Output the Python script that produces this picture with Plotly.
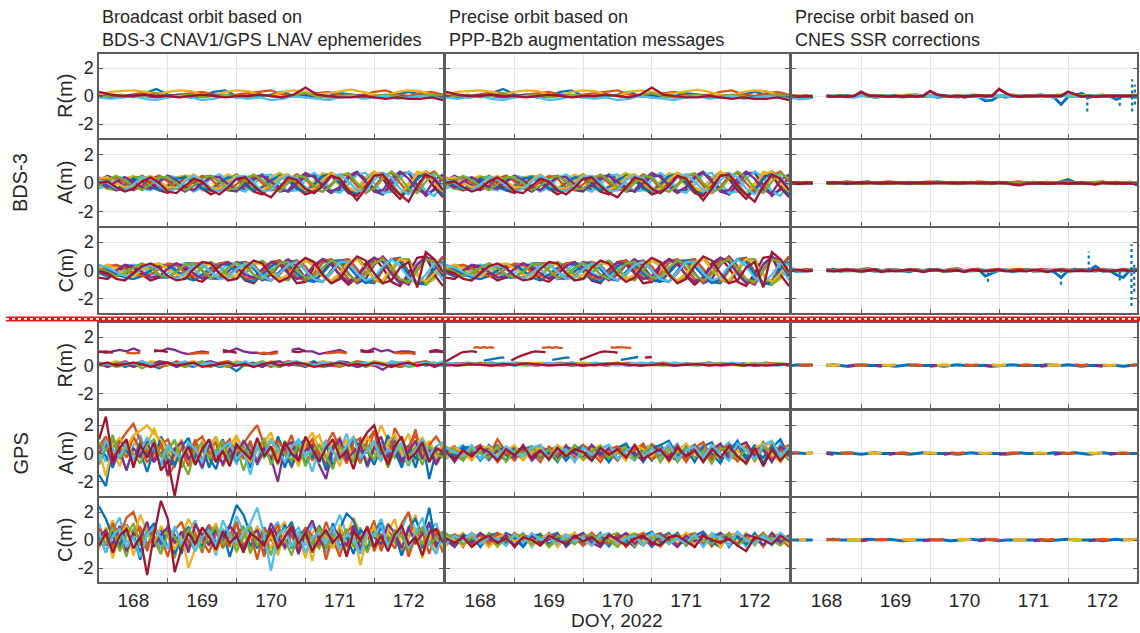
import numpy as np
import plotly.graph_objects as go
from plotly.subplots import make_subplots

NA = None

# ---------------- labels ----------------
COL_TITLES = [
    "Broadcast orbit based on<br>BDS-3 CNAV1/GPS LNAV ephemerides",
    "Precise orbit based on<br>PPP-B2b augmentation messages",
    "Precise orbit based on<br>CNES SSR corrections",
]
ROW_LABELS = ["R(m)", "A(m)", "C(m)", "R(m)", "A(m)", "C(m)"]
SYSTEMS = ["BDS-3", "GPS"]
DAY_LABELS = ["168", "169", "170", "171", "172"]
X_TITLE = "DOY, 2022"
DOY_START, DOY_END = 168.0, 173.0
Y_TICKS = [-2, 0, 2]

# ---------------- data (orbit errors, m) ----------------
# BDS-3 radial, broadcast (PPP-B2b panel is practically identical)
BDS_R_BRDC = [
    [0.1,0.0,-0.1,0.0,0.2,0.5,0.1,0.0,-0.1,0.0,0.3,0.4,0.0,-0.1,0.0,0.1,0.3,0.0,-0.1,0.0,0.0,0.2,0.1,0.0,-0.1,0.0,0.1,0.3,0.1,0.0,-0.1],
    [0.2,0.1,0.0,0.1,0.3,0.2,0.0,0.1,0.2,0.3,0.1,0.0,0.1,0.2,0.3,0.4,0.1,0.0,0.1,0.2,0.3,0.1,0.0,0.1,0.3,0.4,0.1,0.0,0.2,0.3,0.1],
    [0.1,0.3,0.35,0.4,0.3,0.1,0.3,0.4,0.35,0.1,0.0,0.3,0.4,0.35,0.1,0.0,0.3,0.4,0.3,0.1,0.2,0.35,0.45,0.3,0.1,0.0,0.3,0.4,0.35,0.1,0.0],
    [0.0,-0.1,0.0,0.1,0.0,-0.1,0.0,0.1,-0.1,0.0,0.1,0.0,-0.1,0.0,0.1,0.0,-0.1,0.0,0.1,0.0,-0.1,0.0,0.1,0.0,-0.1,0.0,0.0,-0.1,0.0,0.1,0.0],
    [-0.1,0.0,0.1,-0.1,0.0,0.2,-0.1,0.0,0.1,-0.1,0.0,0.1,0.0,-0.1,0.1,0.0,-0.1,0.1,0.2,0.0,-0.1,0.0,0.1,-0.1,0.0,0.1,0.0,-0.2,0.0,0.1,0.0],
    [-0.1,-0.2,-0.1,0.0,-0.2,-0.3,-0.1,0.0,-0.1,-0.3,-0.2,0.0,-0.1,-0.2,-0.1,-0.3,-0.2,0.0,-0.1,-0.2,-0.3,-0.1,0.0,-0.2,-0.1,0.0,-0.2,-0.1,0.0,-0.1,-0.2],
    [0.3,0.1,0.0,0.0,0.1,0.0,0.0,-0.1,0.0,0.1,0.0,-0.1,0.0,0.0,0.1,0.0,-0.1,0.1,0.6,0.1,0.0,-0.1,-0.1,0.0,-0.1,-0.2,-0.1,-0.2,-0.2,-0.1,-0.3],
]
BDS_A_BRDC = [
    [0.1,-0.2,-0.4,-0.1,0.3,0.1,-0.3,-0.5,-0.2,0.3,0.4,0.0,-0.4,-0.5,0.0,0.4,0.3,-0.2,-0.5,-0.3,0.2,0.5,0.2,-0.4,-0.6,-0.1,0.5,0.6,0.0,-0.6,-0.7,0.1,0.7,0.5,-0.3,-0.8,-0.5,0.3,0.7,0.2,-0.9],
    [-0.1,0.3,0.4,0.0,-0.4,-0.3,0.2,0.5,0.1,-0.4,-0.4,0.1,0.5,0.3,-0.3,-0.5,-0.1,0.4,0.5,0.0,-0.5,-0.4,0.2,0.6,0.3,-0.4,-0.6,-0.1,0.6,0.5,-0.2,-0.7,-0.3,0.5,0.7,0.0,-0.7,-0.4,0.5,0.8,0.1],
    [0.3,0.4,0.0,-0.3,-0.2,0.3,0.5,0.1,-0.3,-0.3,0.2,0.6,0.2,-0.3,-0.4,0.1,0.5,0.4,-0.2,-0.5,-0.2,0.4,0.6,0.1,-0.5,-0.4,0.2,0.7,0.4,-0.3,-0.6,0.0,0.7,0.6,-0.2,-0.7,-0.2,0.6,0.8,0.0,-0.6],
    [0.0,-0.3,0.1,0.4,0.1,-0.3,-0.4,0.1,0.5,0.2,-0.3,-0.5,0.0,0.4,0.4,-0.1,-0.5,-0.2,0.3,0.5,0.1,-0.4,-0.6,0.0,0.5,0.5,-0.2,-0.6,-0.3,0.4,0.7,0.1,-0.6,-0.5,0.3,0.8,0.3,-0.5,-0.7,0.2,0.6],
    [-0.2,0.2,0.5,0.2,-0.2,-0.5,-0.1,0.4,0.4,0.0,-0.5,-0.2,0.3,0.5,0.1,-0.4,-0.4,0.2,0.6,0.2,-0.3,-0.6,0.0,0.5,0.4,-0.2,-0.6,-0.2,0.5,0.7,0.0,-0.6,-0.4,0.3,0.8,0.4,-0.4,-0.7,0.1,0.7,0.3],
    [0.2,0.0,-0.4,-0.5,-0.1,0.4,0.3,-0.2,-0.6,-0.4,0.1,0.5,0.2,-0.4,-0.6,-0.2,0.4,0.5,0.0,-0.6,-0.5,0.2,0.5,0.3,-0.3,-0.7,-0.3,0.4,0.6,0.1,-0.5,-0.6,0.2,0.7,0.4,-0.4,-0.8,-0.2,0.6,0.5,-0.5],
    [0.0,0.1,-0.3,-0.6,-0.4,0.1,0.4,0.0,-0.6,-0.7,-0.2,0.3,0.1,-0.5,-0.8,-0.3,0.3,0.4,-0.2,-0.7,-1.0,-0.3,0.4,0.2,-0.4,-0.7,-0.2,0.5,0.3,-0.5,-1.2,-0.4,0.5,0.6,-0.2,-0.8,-1.3,-0.2,0.6,0.3,-0.5],
]
BDS_A_BRDC_MORE = [
    [-0.3,0.1,0.4,0.3,-0.1,-0.4,-0.3,0.2,0.5,0.2,-0.3,-0.5,-0.1,0.4,0.5,0.0,-0.5,-0.4,0.2,0.6,0.3,-0.3,-0.6,-0.2,0.5,0.6,0.0,-0.6,-0.5,0.3,0.7,0.3,-0.4,-0.8,-0.2,0.6,0.7,-0.1,-0.8,-0.5,0.4],
    [0.4,0.0,-0.4,-0.3,0.2,0.5,0.2,-0.3,-0.5,-0.1,0.4,0.5,0.0,-0.5,-0.4,0.2,0.6,0.2,-0.4,-0.6,-0.1,0.5,0.6,0.0,-0.6,-0.5,0.2,0.7,0.4,-0.4,-0.8,-0.2,0.6,0.7,0.0,-0.8,-0.6,0.3,0.8,0.4,-0.6],
    [-0.2,-0.4,-0.1,0.3,0.5,0.1,-0.3,-0.5,-0.1,0.4,0.5,0.0,-0.5,-0.4,0.2,0.6,0.3,-0.3,-0.6,-0.2,0.4,0.7,0.2,-0.5,-0.6,0.1,0.7,0.5,-0.2,-0.7,-0.4,0.4,0.8,0.3,-0.6,-0.8,0.0,0.8,0.6,-0.3,-0.8],
    [0.2,0.5,0.2,-0.2,-0.5,-0.2,0.3,0.5,0.2,-0.3,-0.6,-0.2,0.4,0.5,0.1,-0.5,-0.6,0.0,0.5,0.5,-0.1,-0.6,-0.5,0.2,0.7,0.4,-0.3,-0.7,-0.3,0.5,0.8,0.2,-0.6,-0.8,0.0,0.7,0.7,-0.2,-0.9,-0.4,0.5],
    [0.0,-0.4,-0.5,-0.1,0.4,0.4,0.0,-0.5,-0.4,0.1,0.5,0.3,-0.2,-0.6,-0.3,0.3,0.6,0.2,-0.4,-0.6,0.0,0.6,0.5,-0.2,-0.7,-0.3,0.4,0.7,0.2,-0.6,-0.7,0.0,0.7,0.6,-0.3,-0.8,-0.3,0.5,0.8,0.1,-0.7],
    [-0.4,-0.1,0.3,0.4,0.0,-0.4,-0.5,0.0,0.5,0.4,-0.2,-0.6,-0.3,0.3,0.6,0.2,-0.4,-0.6,-0.1,0.5,0.6,0.0,-0.6,-0.5,0.2,0.7,0.3,-0.5,-0.7,-0.1,0.6,0.7,0.0,-0.7,-0.6,0.3,0.8,0.4,-0.6,-0.9,0.0],
    [0.2,-0.1,-0.5,-0.4,0.1,0.3,0.0,-0.5,-0.7,-0.2,0.3,0.2,-0.4,-0.8,-0.5,0.1,0.4,0.0,-0.6,-0.8,-0.2,0.4,0.3,-0.3,-0.8,-0.6,0.2,0.5,0.0,-0.7,-0.9,-0.1,0.6,0.3,-0.5,-1.1,-0.4,0.5,0.5,-0.3,-1.0],
]
BDS_C_BRDC = [
    [0.3,0.1,-0.2,-0.5,-0.6,-0.4,0.0,0.3,0.4,0.0,-0.5,-0.7,-0.3,0.2,0.5,0.4,-0.1,-0.6,-0.8,-0.3,0.3,0.6,0.4,-0.2,-0.7,-0.8,-0.2,0.5,0.7,0.3,-0.4,-0.9,-0.6,0.2,0.8,0.6,-0.3,-1.0,-0.8,0.1,0.6],
    [0.0,0.3,0.4,0.2,-0.2,-0.4,-0.3,0.1,0.5,0.4,-0.1,-0.4,-0.5,0.0,0.5,0.6,0.1,-0.5,-0.6,-0.1,0.5,0.7,0.2,-0.5,-0.7,-0.2,0.6,0.8,0.1,-0.6,-0.8,-0.1,0.7,0.9,0.0,-0.8,-0.9,0.1,0.8,0.7,-0.3],
    [0.2,0.4,0.1,-0.3,-0.4,0.0,0.4,0.5,0.1,-0.3,-0.4,0.1,0.5,0.4,-0.1,-0.5,-0.3,0.3,0.6,0.4,-0.2,-0.6,-0.3,0.4,0.7,0.3,-0.4,-0.7,-0.2,0.6,0.8,0.1,-0.6,-0.7,0.2,0.8,0.6,-0.3,-0.8,-0.2,0.5],
    [-0.1,-0.3,0.0,0.4,0.3,-0.1,-0.5,-0.4,0.1,0.5,0.3,-0.2,-0.6,-0.3,0.3,0.6,0.2,-0.3,-0.5,0.1,0.6,0.4,-0.2,-0.6,-0.4,0.4,0.8,0.4,-0.3,-0.8,-0.5,0.3,0.9,0.6,-0.2,-0.9,-0.6,0.4,1.0,0.5,-0.4],
    [0.1,-0.1,-0.4,-0.2,0.2,0.5,0.2,-0.3,-0.5,-0.1,0.4,0.5,0.0,-0.5,-0.4,0.2,0.5,0.3,-0.3,-0.6,-0.1,0.5,0.6,0.0,-0.5,-0.5,0.2,0.7,0.5,-0.3,-0.7,-0.3,0.5,0.8,0.2,-0.6,-0.8,0.0,0.8,0.6,-0.2],
    [0.4,0.2,-0.1,-0.4,-0.3,0.2,0.4,0.1,-0.4,-0.6,-0.2,0.3,0.4,-0.1,-0.6,-0.5,0.1,0.5,0.3,-0.4,-0.7,-0.2,0.4,0.6,0.0,-0.6,-0.8,-0.1,0.6,0.6,-0.2,-0.7,-0.5,0.3,0.8,0.3,-0.5,-0.9,-0.3,0.5,0.4],
    [0.0,-0.2,-0.6,-0.7,-0.2,0.3,0.5,0.2,-0.4,-0.7,-0.6,0.1,0.6,0.5,-0.2,-0.7,-0.6,0.2,0.7,0.5,-0.3,-0.8,-0.5,0.4,0.9,0.6,-0.3,-0.9,-0.6,0.3,1.0,0.7,-0.2,-0.9,-0.7,0.2,0.6,-1.2,1.3,0.8,-0.1],
]
BDS_C_BRDC_MORE = [
    [-0.2,-0.4,-0.2,0.2,0.4,0.3,-0.1,-0.5,-0.5,0.0,0.5,0.5,0.0,-0.5,-0.6,-0.1,0.5,0.6,0.1,-0.6,-0.7,-0.1,0.6,0.7,0.0,-0.7,-0.8,0.0,0.7,0.8,0.1,-0.8,-0.9,0.0,0.8,0.9,-0.1,-0.9,-1.0,0.2,0.9],
    [0.3,0.1,-0.3,-0.4,-0.1,0.3,0.4,0.1,-0.4,-0.5,0.0,0.5,0.5,-0.1,-0.6,-0.4,0.2,0.6,0.4,-0.3,-0.7,-0.3,0.4,0.7,0.3,-0.5,-0.8,-0.2,0.6,0.8,0.1,-0.7,-0.8,0.0,0.8,0.8,-0.2,-0.9,-0.7,0.3,1.0],
    [0.0,0.4,0.3,-0.1,-0.4,-0.3,0.2,0.5,0.3,-0.2,-0.5,-0.3,0.3,0.6,0.2,-0.4,-0.6,-0.1,0.5,0.6,0.0,-0.6,-0.6,0.1,0.7,0.5,-0.3,-0.8,-0.4,0.4,0.8,0.3,-0.6,-0.9,-0.1,0.8,0.8,-0.2,-1.0,-0.6,0.5],
    [0.4,0.0,-0.4,-0.3,0.2,0.5,0.2,-0.3,-0.5,-0.1,0.4,0.5,0.0,-0.6,-0.5,0.2,0.6,0.4,-0.3,-0.7,-0.3,0.4,0.8,0.3,-0.5,-0.8,-0.1,0.7,0.7,-0.2,-0.9,-0.6,0.4,1.0,0.3,-0.7,-1.0,0.0,0.9,0.8,-0.4],
    [-0.3,0.2,0.4,0.1,-0.3,-0.4,0.0,0.4,0.4,-0.1,-0.5,-0.4,0.2,0.6,0.3,-0.3,-0.6,-0.2,0.4,0.7,0.2,-0.5,-0.7,0.0,0.7,0.6,-0.2,-0.8,-0.5,0.4,0.9,0.3,-0.6,-0.9,0.0,0.8,0.8,-0.3,-1.0,-0.4,0.6],
    [0.1,-0.3,-0.4,0.0,0.4,0.3,-0.2,-0.5,-0.2,0.3,0.5,0.1,-0.4,-0.6,-0.1,0.5,0.5,-0.1,-0.6,-0.5,0.2,0.7,0.4,-0.3,-0.8,-0.3,0.5,0.8,0.2,-0.6,-0.8,0.0,0.8,0.7,-0.3,-0.9,-0.5,0.5,0.9,0.2,-0.7],
    [-0.5,-0.6,-0.1,0.3,0.2,-0.3,-0.7,-0.5,0.2,0.5,0.1,-0.6,-0.8,-0.3,0.4,0.6,0.0,-0.7,-0.9,-0.2,0.6,0.7,-0.1,-0.9,-0.8,0.2,0.8,0.6,-0.4,-1.0,-0.5,0.5,0.9,0.2,-0.8,-1.1,-0.2,0.9,1.0,-0.3,-1.1],
]

# GPS radial, broadcast
GPS_R_BRDC = [
    [0.1,0.0,0.2,-0.1,0.1,0.3,0.0,-0.2,0.1,0.2,0.0,-0.1,0.2,0.1,-0.1,0.0,-0.4,0.1,0.2,0.0,0.1,-0.1,0.2,0.0,0.1,0.3,-0.1,0.0,0.2,0.1,-0.1,0.0,0.2,0.1,0.0,-0.1,0.1,0.2,0.0,0.1,0.0],
    [0.0,0.2,0.1,0.3,0.0,0.1,0.2,-0.1,0.0,0.3,0.1,0.2,0.0,-0.1,0.2,0.3,0.1,0.0,0.1,0.2,-0.1,0.1,0.3,0.2,0.0,0.1,0.2,0.0,-0.1,0.1,0.3,0.2,0.0,0.1,0.2,-0.1,0.0,0.2,0.3,0.1,0.2],
    [0.2,0.1,0.3,0.1,0.2,0.0,0.3,0.2,0.1,0.0,0.2,0.3,0.1,0.2,0.0,0.1,0.3,0.2,0.0,0.1,0.3,0.2,0.1,0.0,0.2,0.1,0.3,0.2,0.1,0.2,0.0,0.1,0.3,0.2,0.1,0.2,0.3,0.0,0.1,0.2,0.1],
    [0.1,-0.1,0.1,0.2,-0.1,0.1,0.0,0.3,0.2,-0.1,0.1,0.0,0.2,0.3,0.1,-0.1,0.0,0.2,0.1,-0.1,0.2,0.3,0.0,0.1,-0.1,0.2,0.1,0.0,0.3,0.2,-0.1,0.1,0.0,-0.3,0.1,0.2,0.0,0.1,0.2,-0.1,0.1],
    [0.0,0.1,-0.1,0.0,0.2,-0.2,0.1,0.0,0.2,0.1,-0.1,0.1,0.3,0.0,0.1,-0.1,0.2,0.0,0.1,0.3,0.0,-0.1,0.1,0.2,0.0,0.1,-0.1,0.2,0.0,0.1,0.2,-0.1,0.1,0.0,0.2,0.1,-0.1,0.0,0.1,0.2,0.0],
    [0.2,0.1,0.0,0.2,0.1,0.3,0.1,0.0,0.2,0.1,0.3,0.0,0.1,0.2,0.0,0.2,0.1,0.3,0.0,0.2,0.1,0.0,0.2,0.3,0.1,0.0,0.2,0.1,0.3,0.0,0.1,0.2,0.1,0.0,0.3,0.2,0.0,0.1,0.2,0.1,0.3],
    [0.1,0.2,0.0,0.1,0.2,0.1,-0.1,0.1,0.2,0.0,0.1,0.2,-0.1,0.0,0.1,0.2,0.0,0.1,-0.1,0.1,0.2,0.0,0.1,0.2,0.1,-0.1,0.0,0.1,0.2,0.0,0.1,0.0,0.2,0.1,-0.1,0.1,0.2,0.0,0.1,0.0,0.1],
]
GPS_R_BRDC_UP_PURPLE = [
    1.0,0.9,1.0,1.1,1.0,1.2,1.0,NA,1.1,1.0,
    1.2,1.1,0.9,0.8,0.9,1.0,0.9,NA,1.1,1.0,
    1.2,1.0,0.9,0.9,0.8,0.9,1.0,NA,1.1,1.2,
    1.0,1.0,0.8,0.9,1.0,1.1,0.9,NA,1.1,1.0,
    1.2,1.0,1.1,0.9,1.0,1.0,0.9,NA,1.0,1.1,
    1.0]
GPS_R_BRDC_UP_ORANGE = [
    NA,NA,NA,NA,0.90,0.85,0.90,NA,NA,NA,
    NA,NA,NA,0.80,0.85,0.90,0.85,NA,NA,NA,
    NA,NA,NA,0.85,0.90,0.80,0.90,NA,NA,NA,
    NA,NA,NA,0.85,0.90,0.95,0.85,NA,NA,NA,
    NA,NA,NA,0.90,0.85,0.90,0.80,NA,NA,NA,
    NA]
GPS_R_BRDC_UP_RED = [
    0.95,1.00,0.90,NA,NA,NA,NA,NA,1.00,1.05,
    0.95,NA,NA,NA,NA,NA,NA,NA,0.95,1.00,
    0.90,NA,NA,NA,NA,NA,NA,NA,1.00,0.95,
    1.05,NA,NA,NA,NA,NA,NA,NA,1.00,0.95,
    1.00,NA,NA,NA,NA,NA,NA,NA,0.95,1.00,
    0.95]

GPS_A_BRDC = [
    [-1.5,-2.3,0.5,1.0,0.2,-0.5,0.8,0.0,-0.6,1.2,0.3,-0.8,0.5,1.1,-0.3,0.6,-1.0,0.2,1.0,-0.4,0.7,0.1,-1.0,0.9,0.3,-0.5,1.2,0.0,-0.9,0.6,1.0,-0.3,0.4,-1.2,0.8,0.2,-0.6,1.1,0.3,-0.8,0.5,-0.2,1.3,0.1,-1.0,0.6,-0.4,0.9,-1.8,0.2,0.5],
    [0.5,1.2,-0.3,0.8,1.5,2.1,0.9,0.2,-0.5,0.6,1.0,-0.2,0.4,-0.9,0.8,1.2,0.1,-0.6,0.5,1.0,-0.3,0.7,1.4,2.0,0.6,-0.4,0.9,0.2,1.3,-0.5,0.4,1.0,-0.2,0.6,1.5,0.3,-0.7,0.8,1.1,0.0,1.6,0.4,-0.5,1.8,0.9,0.2,1.7,-0.3,0.6,1.2,0.4],
    [0.3,-1.6,0.6,1.1,0.4,1.3,1.6,2.0,1.4,1.0,0.2,-0.4,0.7,0.1,-0.8,0.9,0.3,1.2,-0.2,0.5,1.3,0.0,-0.6,0.8,0.4,1.1,-0.3,0.6,0.2,-0.9,0.7,1.5,0.3,-0.4,0.9,0.1,1.0,-0.6,0.5,1.2,0.2,-0.3,0.8,1.4,0.0,-0.7,0.6,1.1,0.3,-0.2,0.7],
    [0.0,0.6,-0.8,0.2,-1.2,0.4,-0.3,0.9,-0.6,0.1,-1.5,0.3,0.8,-0.4,0.2,-1.0,0.6,0.0,-0.7,0.3,-0.2,0.9,0.1,-0.6,0.4,-0.3,-2.0,0.5,0.8,-0.5,0.2,0.6,-0.8,-1.8,0.3,1.0,-0.4,0.1,0.7,-0.9,0.4,1.2,-0.3,0.5,-0.6,0.2,0.9,-0.4,0.3,-0.8,0.1],
    [0.8,0.2,1.3,-0.4,0.5,0.0,-0.7,0.6,1.0,-0.2,0.3,0.9,-0.5,-1.5,0.4,0.7,-0.3,0.2,0.9,-0.6,0.1,0.5,-0.2,0.3,1.0,-0.8,0.4,0.0,-0.5,0.7,-0.9,0.2,0.6,-0.3,-1.1,0.5,0.1,-0.6,0.8,0.2,-0.4,0.6,-1.0,0.3,0.7,-0.2,0.4,-0.8,0.5,0.0,-0.3],
    [-0.6,0.9,0.3,-0.2,0.7,-0.5,0.2,1.1,0.4,-0.7,0.6,0.0,-0.3,0.8,0.3,-0.6,1.0,-0.1,0.4,0.8,-0.4,0.2,-1.5,0.6,-0.2,0.9,0.3,-0.6,0.5,1.0,-0.2,0.3,-0.7,0.8,0.1,-0.4,0.6,1.1,-0.3,0.2,0.9,-0.5,0.3,0.0,0.8,-0.6,0.2,1.0,-0.1,0.5,0.8],
    [1.0,2.6,-0.5,0.4,1.0,-1.0,0.6,-0.3,0.8,-1.2,-0.5,-3.0,-0.4,0.5,-0.8,0.3,1.0,-0.6,0.2,-0.9,0.6,0.1,-0.4,1.1,-0.2,0.5,-0.7,0.8,0.0,-0.5,1.2,0.3,-0.6,0.4,1.0,-0.3,0.2,-1.1,0.7,1.5,2.0,0.3,-0.8,0.5,1.2,-0.4,0.0,0.8,-0.6,0.4,0.1],
]
GPS_A_BRDC_MORE = [
    [0.4,-0.6,1.0,0.3,-1.2,0.6,1.3,-0.2,0.5,-0.9,0.2,1.0,-0.4,0.7,0.0,-1.1,0.5,1.2,-0.3,0.3,-0.8,0.9,0.4,-0.5,1.1,0.2,-0.7,0.6,-0.2,1.0,0.1,-1.3,0.4,0.9,-0.5,0.2,1.4,-0.3,0.6,-1.0,0.3,0.8,-0.6,1.2,0.0,-0.9,0.5,1.0,-0.4,0.3,-0.2],
    [-0.3,0.8,0.2,-0.9,0.5,1.1,-0.2,0.6,1.8,0.4,-0.7,0.3,1.0,-0.4,0.6,0.2,-0.8,0.9,0.3,-0.3,1.1,0.5,-0.6,0.2,0.8,1.5,0.0,-0.8,0.7,0.3,-0.4,0.9,1.3,-0.2,0.4,-0.9,0.6,1.2,0.1,-0.5,0.7,2.0,0.9,-0.3,0.5,1.4,-0.6,0.2,0.9,-0.1,0.6],
    [0.6,-0.2,-1.0,0.4,0.8,-0.6,0.1,-1.3,0.3,0.7,-0.4,-0.9,0.5,0.2,-0.6,0.9,-0.3,-1.1,0.4,0.6,-0.5,0.0,0.8,-0.8,0.2,-0.4,0.6,-1.0,0.3,0.5,-0.7,0.1,-0.4,0.7,-0.9,0.3,0.5,-0.6,1.0,0.2,-0.8,0.4,-0.2,0.9,-0.5,0.3,-1.0,0.6,0.1,-0.6,0.4],
    [-0.8,0.4,0.9,-0.3,0.2,-0.7,0.8,0.3,-0.5,0.6,-0.2,0.4,-1.0,0.1,0.7,-0.4,0.3,-0.6,0.8,-0.1,0.5,-1.2,0.2,0.6,-0.3,0.4,-0.8,0.9,0.1,-0.5,0.6,-0.2,0.3,-0.9,0.5,0.8,-0.4,0.2,-0.7,0.6,0.0,-0.5,0.7,-0.3,0.4,-0.8,0.2,0.5,-0.6,0.3,-0.1],
    [0.2,0.9,-0.8,0.5,-0.3,1.2,0.3,-0.6,0.0,0.9,-1.6,-0.8,0.6,-0.2,1.0,-0.5,0.4,0.8,-0.9,0.2,0.5,-0.4,0.9,-0.7,0.3,1.0,-0.3,0.5,-1.0,0.4,0.8,-0.5,0.2,-0.8,0.6,1.1,-0.2,0.4,-0.6,0.9,1.6,-0.4,0.2,0.7,-0.9,0.5,1.3,-0.3,0.2,-0.7,0.5],
]
GPS_C_BRDC = [
    [2.4,1.5,0.2,-0.6,1.0,0.3,-0.9,0.5,1.2,-0.3,0.6,-1.0,0.4,0.9,-0.5,0.2,1.1,-0.4,0.3,1.0,2.5,1.8,0.4,-0.6,0.9,0.1,-0.8,0.5,1.3,-0.2,0.6,-0.9,1.0,0.2,-0.5,0.8,1.9,1.4,0.0,-0.7,0.6,1.2,-0.3,0.4,-1.1,0.9,1.5,0.3,2.3,-0.4,0.6],
    [0.8,-0.4,1.2,0.3,1.6,2.0,0.5,-0.8,0.9,0.2,-1.2,0.7,1.3,-0.2,0.4,-0.9,1.0,0.6,-0.5,0.3,1.2,-0.7,0.5,-1.4,0.8,0.2,1.1,-0.6,0.4,-1.0,0.9,0.3,-0.4,1.3,0.1,-1.2,0.6,1.0,-0.5,0.2,1.4,-0.8,0.7,0.0,1.2,2.0,-0.3,0.6,-1.0,0.8,0.3],
    [-0.5,0.9,-1.3,0.4,1.0,0.2,1.8,0.6,-0.4,1.0,0.3,-0.7,0.5,-2.0,-0.6,0.8,0.2,1.2,-0.3,0.5,-0.9,0.7,0.1,0.9,-0.5,0.3,-1.1,0.6,1.0,-0.2,0.4,-1.5,0.8,0.2,-0.6,1.1,-0.3,0.5,-1.8,0.3,0.9,-0.4,0.6,1.5,-0.7,0.2,0.8,-1.3,0.4,0.1,-0.5],
    [0.2,0.7,-0.3,1.0,-0.8,0.5,0.1,1.3,-0.5,0.4,0.9,-0.2,0.6,-0.9,1.1,0.3,-0.4,0.8,-0.2,1.0,0.4,-0.6,0.3,0.7,-0.3,1.2,0.2,-0.5,0.8,-1.0,0.5,1.4,0.0,-0.6,0.9,0.3,-0.4,1.0,-0.8,0.6,0.2,-0.3,1.1,0.5,-0.6,0.9,-0.2,0.4,1.2,-0.5,0.3],
    [0.4,-0.3,0.9,-0.8,0.3,1.2,-0.4,0.6,0.0,-1.0,0.5,0.2,-0.5,0.8,0.1,-0.7,0.4,0.9,-0.3,0.6,-0.8,0.2,1.0,-0.4,0.3,0.7,-0.6,0.1,-1.1,0.5,0.2,-0.3,0.9,-0.6,0.4,0.0,0.8,-0.5,0.3,-0.9,0.5,0.1,-0.4,0.7,0.2,-0.6,0.4,0.9,-0.3,0.1,0.6],
    [0.6,-0.9,0.3,0.8,-0.5,0.2,-1.2,0.4,0.9,0.1,-0.6,1.0,-0.3,0.5,-0.8,0.2,0.7,-0.4,1.4,0.3,-0.2,0.5,1.2,2.3,0.4,-2.2,0.3,0.8,-0.5,0.6,-0.9,0.2,0.5,-0.3,1.0,-0.7,0.4,0.1,-1.0,0.6,0.3,1.1,-0.4,0.2,0.9,-0.6,0.5,1.6,-0.2,-1.0,0.4],
    [-0.4,0.5,-0.9,0.3,0.8,-0.6,0.2,-2.5,0.4,2.8,1.5,-2.3,-0.6,0.5,-0.3,0.9,0.2,-0.7,0.6,-0.2,0.3,-0.9,0.5,0.1,-0.4,0.8,-0.6,0.2,1.0,-0.3,0.5,-0.8,0.1,0.7,-0.2,0.4,-1.2,0.6,0.0,0.9,-0.5,0.3,-0.8,0.4,1.0,-0.3,0.2,-1.1,0.5,0.8,-0.2],
]
GPS_C_BRDC_MORE = [
    [1.2,-0.4,0.7,1.6,-0.2,0.5,-1.0,0.9,0.3,-0.6,1.1,0.2,-0.8,0.6,1.4,-0.3,0.4,-1.1,0.8,0.1,1.7,0.6,-0.5,1.0,-0.2,0.7,1.3,-0.7,0.3,0.9,-0.4,1.1,0.2,-0.9,0.6,1.8,0.4,-0.3,0.9,-0.8,0.5,1.5,0.1,-0.6,0.8,2.0,0.7,-0.4,0.6,1.2,-0.3],
    [-0.6,0.5,1.4,-0.3,0.8,-1.1,0.4,1.2,-0.5,0.3,0.9,-0.8,0.2,1.5,0.6,-0.4,0.8,-0.9,0.3,1.1,-0.2,0.6,-1.0,0.9,0.4,-0.6,0.7,1.3,-0.4,0.2,-1.3,0.5,1.0,-0.2,0.7,-0.9,0.3,1.6,0.5,-0.7,0.9,-0.2,1.2,0.4,-1.0,0.6,1.8,-0.3,0.4,-0.8,0.6],
    [0.3,-0.9,0.6,-0.4,1.1,0.2,-1.4,0.5,-0.2,0.8,-0.6,0.4,-1.0,0.7,0.1,-0.5,1.0,-0.3,0.6,-1.2,0.4,0.9,-0.4,0.2,-0.9,0.6,-0.1,1.1,-0.6,0.3,0.8,-0.9,0.4,-0.3,1.2,-0.5,0.2,-1.0,0.7,0.3,-0.6,1.0,-0.4,0.5,-1.1,0.2,0.8,-0.6,1.3,-0.2,0.4],
    [-0.2,0.6,-0.7,0.3,-1.2,0.8,0.1,-0.5,1.0,-0.3,0.4,-1.3,0.6,0.0,-0.8,0.5,-0.2,0.9,-0.6,0.3,-0.4,1.0,-0.9,0.2,0.5,-1.1,0.7,-0.3,0.4,-0.7,0.9,-0.1,-0.6,0.5,-0.4,0.3,-1.0,0.6,0.1,-0.5,0.8,-0.7,0.3,-0.2,0.6,-0.9,0.4,-0.3,0.7,-0.5,0.2],
    [0.8,0.2,-0.5,1.0,-0.8,0.4,0.9,-0.3,0.2,-1.0,0.7,-0.2,0.5,-0.6,1.2,0.0,-0.9,0.4,0.6,-0.5,1.3,-0.4,0.3,0.8,-1.2,0.5,-0.3,0.2,1.1,-0.7,0.4,-0.2,0.9,-1.4,0.3,0.6,-0.5,0.8,-0.2,1.0,-0.8,0.4,0.1,-0.6,0.7,-1.2,0.3,0.9,-0.4,0.5,-0.9],
]

# GPS, PPP-B2b
GPS_R_PPP = [
    [0.1,0.15,0.05,0.1,0.2,0.1,0.0,0.1,0.15,0.05,0.1,0.2,0.1,0.05,0.15,0.1,0.0,0.1,0.2,0.1,0.05,0.15,0.1,0.2,0.05,0.1,0.15,0.0,0.1,0.15,0.1],
    [0.05,0.1,0.2,0.1,0.0,0.1,0.2,0.15,0.05,0.1,0.2,0.1,0.0,0.15,0.1,0.2,0.1,0.05,0.1,0.2,0.15,0.05,0.1,0.2,0.1,0.15,0.05,0.1,0.2,0.1,0.05],
    [0.15,0.05,0.1,0.2,0.1,0.15,0.05,0.1,0.2,0.15,0.05,0.1,0.2,0.1,0.05,0.15,0.2,0.1,0.0,0.1,0.2,0.1,0.15,0.05,0.2,0.1,0.1,0.2,0.05,0.15,0.1],
    [0.0,0.1,0.05,0.15,0.05,0.0,0.1,0.05,0.0,0.15,0.1,0.0,0.05,0.1,0.0,0.05,0.15,0.0,0.1,0.05,0.0,0.1,0.05,0.15,0.0,0.05,0.1,0.0,0.05,0.1,0.0],
    [0.1,0.0,0.05,0.1,0.15,0.05,0.1,0.0,0.1,0.05,0.15,0.05,0.1,0.0,0.1,0.05,0.1,0.15,0.05,0.0,0.1,0.05,0.0,0.1,0.15,0.05,0.0,0.1,0.15,0.05,0.1],
    [0.2,0.1,0.15,0.05,0.1,0.2,0.15,0.1,0.05,0.2,0.1,0.15,0.05,0.2,0.1,0.0,0.1,0.2,0.15,0.1,0.2,0.05,0.1,0.15,0.1,0.2,0.05,0.15,0.1,0.0,0.1],
    [0.05,0.0,0.1,0.05,0.0,0.1,0.05,0.15,0.1,0.0,0.05,0.1,0.0,0.05,0.1,0.15,0.05,0.0,0.05,0.1,0.0,0.05,0.1,0.0,0.05,0.1,0.0,0.05,0.0,0.05,0.1],
]
# short arcs with large radial offsets (start DOY, values every 0.05 day)
GPS_R_PPP_ARC_START = [168.00, 168.95, 169.95, 168.40, 169.40, 170.40, 168.55, 169.55, 170.55, 170.90]
GPS_R_PPP_ARC_VALUES = [
    [0.30,0.45,0.60,0.75,0.85,0.95,1.00,1.00,1.00,0.95],
    [0.35,0.50,0.60,0.70,0.80,0.90,0.95,1.00,1.00,1.00,0.95],
    [0.40,0.50,0.60,0.70,0.80,0.85,0.95,1.00,1.00,1.00,0.95,0.90],
    [1.25,1.30,1.25,1.30,1.25,1.30,1.25],
    [1.25,1.30,1.30,1.25,1.30,1.25,1.25],
    [1.30,1.25,1.30,1.30,1.25,1.30,1.25],
    [0.35,0.40,0.45,0.45,0.50,0.55,0.55],
    [0.40,0.45,0.45,0.50,0.55,0.55],
    [0.40,0.45,0.50,0.50,0.55,0.60],
    [0.55,0.60,0.60],
]
GPS_A_PPP = [
    [0.3,-0.2,0.5,0.1,-0.4,0.6,0.0,-0.5,0.4,0.2,-0.3,0.5,-0.1,0.3,-0.5,0.2,0.6,-0.2,0.1,-0.6,0.4,0.7,-0.3,0.2,-0.5,0.6,0.9,-0.2,0.3,-0.6,0.5,0.8,-0.4,0.1,0.9,-0.3,0.6,-0.7,0.4,1.0,-0.2],
    [0.0,0.5,-0.4,0.3,0.6,-0.2,1.0,0.1,-0.5,0.4,0.2,-0.6,0.5,0.0,0.4,-0.3,0.6,0.1,-0.6,0.3,0.5,-0.2,0.2,0.7,-0.4,0.3,-0.1,0.6,-0.5,0.4,0.8,-0.3,0.2,0.6,-0.6,0.5,0.0,0.8,-0.4,0.3,0.6],
    [-0.3,0.4,0.1,-0.5,0.3,0.5,-0.1,0.2,0.6,-0.4,0.1,0.4,-0.3,0.6,0.2,-0.5,0.0,0.4,0.5,-0.2,0.1,-0.5,0.6,0.3,-0.2,0.4,-0.6,0.2,0.7,0.0,-0.4,0.5,0.6,-0.5,0.3,-0.8,0.4,0.7,-0.1,-0.6,0.3],
    [0.2,-0.6,0.3,-0.1,0.5,-0.4,0.2,0.4,-0.3,0.6,-0.5,0.1,0.3,-0.4,0.5,0.0,-0.3,0.6,-0.1,0.4,-0.4,0.2,0.0,-0.5,0.6,0.1,-0.3,0.5,-0.2,0.6,-0.5,0.2,0.7,-0.4,0.5,0.8,-0.2,0.3,-0.6,0.5,0.0],
    [-0.1,0.3,-0.5,0.4,0.0,-0.3,0.5,-0.6,0.2,0.0,0.5,-0.2,0.3,-0.5,0.1,0.4,-0.4,0.2,0.5,-0.3,0.0,0.4,-0.4,0.1,0.5,-0.6,0.3,0.0,0.4,-0.3,0.2,-0.7,0.4,0.2,-0.4,0.3,-0.5,0.5,0.1,-0.3,0.4],
    [0.4,0.1,-0.2,0.6,-0.4,0.2,-0.3,0.5,0.0,-0.2,0.4,0.6,-0.4,0.2,0.3,-0.6,0.4,-0.1,0.3,0.6,-0.4,0.2,0.5,-0.2,0.3,0.0,0.7,-0.4,0.2,0.5,-0.3,0.6,0.0,-0.5,0.7,0.2,-0.4,0.6,0.9,-0.2,0.5],
    [0.1,-0.4,0.2,-0.2,0.4,0.1,-0.5,0.3,-0.1,0.5,-0.3,0.2,-0.4,0.4,-0.2,0.3,0.1,-0.5,0.4,-0.1,0.3,-0.3,0.6,-0.4,0.0,0.3,-0.5,0.4,-0.2,0.2,-0.6,0.3,-0.3,0.5,-0.2,-0.7,0.4,-0.9,0.3,-0.5,0.2],
]
GPS_A_PPP_MORE = [
    [-0.4,0.2,0.6,-0.2,0.1,-0.5,0.4,0.2,-0.3,0.5,0.0,-0.6,0.3,0.5,-0.2,0.1,-0.4,0.6,0.2,-0.3,0.5,-0.1,-0.5,0.4,0.6,-0.3,0.2,0.7,-0.5,0.1,0.6,-0.4,0.3,0.8,-0.2,-0.6,0.5,0.2,-0.5,0.7,0.1],
    [0.3,0.5,-0.3,0.0,0.6,-0.4,0.2,-0.2,0.5,-0.5,0.3,0.6,-0.1,-0.4,0.4,0.3,-0.5,0.1,0.6,-0.2,0.2,0.5,-0.4,0.0,0.7,0.2,-0.5,0.4,-0.1,0.6,-0.6,0.3,0.5,-0.3,0.2,0.7,-0.6,0.4,0.8,-0.3,0.3],
    [0.0,-0.3,0.4,0.5,-0.5,0.2,0.6,-0.1,-0.4,0.3,0.5,-0.3,0.1,-0.6,0.5,0.2,0.0,-0.5,0.3,0.6,-0.4,0.3,0.1,-0.6,0.4,0.6,-0.2,-0.5,0.5,0.3,-0.3,0.0,-0.7,0.6,0.4,-0.4,0.2,-0.3,0.6,-0.6,0.4],
    [0.5,-0.1,-0.5,0.3,0.2,-0.3,0.5,0.4,0.0,-0.4,0.2,0.4,-0.5,0.3,-0.2,0.6,0.1,-0.3,0.4,-0.6,0.3,0.6,-0.2,0.4,-0.3,0.1,0.5,-0.6,0.3,0.6,-0.1,0.5,-0.4,0.2,0.8,-0.2,0.4,0.6,-0.4,0.2,-0.5],
    [-0.2,0.4,0.0,-0.4,0.5,0.3,-0.6,0.1,0.4,0.2,-0.4,0.5,0.2,-0.2,0.6,-0.4,0.3,0.5,-0.3,0.1,-0.5,0.4,0.3,0.5,-0.4,-0.1,0.6,0.2,-0.6,0.4,0.3,-0.5,0.6,-0.1,-0.5,0.5,0.1,-0.7,0.5,0.3,-0.2],
]
GPS_C_PPP = [
    [0.2,-0.3,0.4,0.0,-0.4,0.3,0.5,-0.2,0.1,-0.5,0.3,0.4,-0.3,0.2,-0.1,0.5,-0.4,0.1,0.3,-0.3,0.4,0.0,-0.5,0.3,0.6,-0.2,0.1,0.5,-0.4,0.3,0.6,-0.1,-0.5,0.4,0.2,-0.3,0.5,-0.4,0.3,0.1,-0.2],
    [-0.2,0.4,0.1,-0.4,0.3,-0.1,0.5,0.2,-0.5,0.4,0.0,-0.3,0.5,-0.2,0.3,0.1,-0.4,0.5,0.0,-0.3,0.4,-0.5,0.2,0.5,-0.2,0.0,0.4,-0.4,0.3,0.5,-0.3,0.2,-0.1,0.5,-0.4,0.3,0.0,0.5,-0.3,0.4,0.1],
    [0.3,0.0,-0.4,0.4,0.1,-0.5,0.2,0.4,-0.1,0.3,-0.4,0.1,0.4,-0.5,0.2,0.5,0.0,-0.4,0.4,0.2,-0.2,0.3,-0.4,0.1,0.4,-0.5,0.3,0.0,0.5,-0.3,0.1,0.4,-0.5,0.2,0.5,-0.1,0.3,-0.5,0.4,0.2,-0.3],
    [0.0,-0.5,0.3,-0.2,0.5,0.1,-0.3,0.4,-0.5,0.2,0.3,-0.2,0.0,0.4,-0.4,0.2,0.5,-0.2,-0.5,0.3,0.1,0.5,-0.3,0.2,-0.4,0.4,0.0,-0.5,0.3,-0.1,0.4,-0.4,0.5,0.0,-0.3,0.4,0.2,-0.4,0.5,-0.2,0.3],
    [0.4,0.1,-0.3,0.2,-0.2,0.4,-0.4,0.0,0.3,0.4,-0.3,0.2,-0.5,0.3,0.1,-0.3,0.3,0.4,-0.1,0.0,-0.5,0.2,0.4,-0.3,0.1,0.3,-0.2,0.4,-0.4,0.2,0.0,-0.3,0.3,0.4,-0.4,0.1,-0.2,0.4,0.0,-0.4,0.2],
    [-0.3,0.3,0.0,0.5,-0.3,0.2,0.1,-0.4,0.4,-0.2,0.5,0.0,0.3,-0.3,0.4,-0.1,0.2,-0.4,0.3,0.5,-0.2,0.1,0.3,-0.4,0.5,0.2,-0.3,0.1,-0.2,0.4,-0.5,0.3,0.2,-0.4,0.6,0.0,-0.3,0.3,-0.2,0.5,0.0],
    [0.1,-0.2,0.2,-0.5,0.0,0.3,-0.2,0.1,-0.4,0.2,0.0,-0.4,0.3,0.0,-0.3,0.3,-0.1,0.2,-0.3,0.4,0.0,-0.4,0.1,0.3,-0.2,-0.4,0.2,0.3,-0.1,-0.5,0.3,0.0,-0.2,0.1,-0.4,-0.8,0.2,0.0,-0.3,0.3,-0.1],
]
GPS_C_PPP_MORE = [
    [0.3,0.4,-0.3,0.1,0.5,-0.4,0.0,0.3,-0.2,0.5,-0.5,0.2,0.4,-0.3,0.0,0.5,-0.4,0.3,0.1,-0.5,0.4,0.2,-0.3,0.5,0.0,-0.5,0.3,0.4,-0.2,0.1,-0.4,0.5,0.2,-0.3,0.4,-0.5,0.3,0.1,-0.4,0.5,-0.1],
    [-0.4,0.1,0.5,-0.2,0.3,0.2,-0.5,0.4,0.3,-0.3,0.1,0.5,-0.4,0.2,0.4,-0.2,0.5,-0.3,0.0,0.4,-0.4,0.3,0.5,-0.1,-0.4,0.4,0.2,-0.3,0.5,0.0,0.3,-0.5,0.4,0.2,-0.2,0.5,-0.4,0.3,0.2,-0.3,0.4],
    [0.1,-0.4,0.2,0.4,-0.5,0.3,-0.1,0.5,0.2,-0.4,0.4,-0.2,0.3,0.5,-0.5,0.1,0.3,-0.2,0.5,-0.4,0.2,-0.3,0.4,0.3,-0.5,0.2,0.5,-0.4,0.0,0.4,-0.3,0.2,0.5,-0.5,0.3,0.1,-0.3,0.5,-0.2,0.0,0.3],
    [0.5,-0.2,0.0,0.3,-0.3,0.5,0.2,-0.4,0.3,0.1,-0.3,0.4,-0.5,0.0,0.3,0.4,-0.3,0.2,-0.5,0.3,0.5,-0.1,-0.4,0.2,0.4,-0.3,0.0,0.5,-0.4,0.3,0.2,-0.2,-0.5,0.4,0.1,-0.3,0.4,-0.5,0.3,0.4,-0.3],
    [-0.1,0.3,-0.5,0.5,0.1,-0.3,0.4,-0.2,0.5,-0.1,0.3,-0.4,0.2,0.4,-0.3,0.3,0.0,0.5,-0.4,0.2,-0.2,0.5,0.0,-0.4,0.3,0.5,-0.3,0.1,0.4,-0.5,0.5,0.0,-0.3,0.3,0.5,-0.2,0.2,-0.4,0.5,0.1,-0.5],
]

# CNES SSR (every 0.1 day from DOY 168.0; NA = no corrections)
CNES_BDS_R = [
    [-0.10,-0.20,-0.15,-0.10,NA,0.00,-0.05,0.00,0.05,-0.05, 0.15,0.00,-0.10,-0.05,0.00,0.05,-0.05,0.00,0.10,-0.05,
     0.00,-0.10,-0.05,0.00,0.05,-0.10,0.00,-0.05,-0.35,-0.30, 0.00,-0.10,0.05,0.00,-0.05,0.00,0.10,0.00,-0.10,-0.60,
     -0.05,0.05,0.20,-0.10,0.00,-0.05,0.00,-0.25,0.00,0.00, -0.10],
    [0.00,0.05,0.00,-0.05,NA,0.00,0.05,0.00,0.00,-0.05, 0.05,0.10,0.00,0.05,0.00,0.00,0.05,0.10,0.05,0.00,
     0.00,0.05,0.00,-0.05,0.05,0.00,0.10,0.05,0.00,0.05, 0.00,0.05,0.10,0.00,0.05,0.00,0.05,0.00,0.05,0.10,
     0.00,-0.05,0.05,0.00,0.05,0.10,0.00,0.05,0.00,0.05, 0.10],
    [0.05,-0.05,0.00,0.00,NA,-0.05,0.00,0.05,-0.05,0.00, 0.05,-0.05,0.00,0.05,0.00,-0.05,0.00,0.05,0.00,-0.05,
     0.00,0.05,0.00,0.00,-0.05,0.05,0.00,-0.05,0.00,0.05, -0.05,0.00,0.05,0.00,-0.05,0.00,0.05,-0.05,0.00,0.05,
     0.00,-0.05,0.00,0.05,0.00,-0.05,0.00,0.05,0.00,0.05, 0.00],
    [-0.05,-0.20,-0.20,-0.10,NA,0.00,0.05,-0.05,-0.10,-0.10, 0.00,0.05,0.00,-0.05,0.05,0.00,-0.10,-0.05,0.00,0.05,
     0.00,-0.05,0.05,0.00,-0.10,0.00,0.05,-0.05,-0.10,0.00, 0.05,0.00,-0.05,0.00,0.05,-0.05,0.00,0.05,-0.10,0.00,
     0.05,0.00,-0.05,0.00,0.05,-0.05,0.00,0.05,0.00,-0.05, -0.10],
    [0.00,-0.05,0.00,-0.05,NA,0.00,-0.05,0.00,-0.05,0.00, 0.30,0.05,0.00,-0.05,-0.05,0.00,-0.05,0.00,-0.05,0.00,
     0.35,0.10,0.00,-0.05,0.00,-0.05,0.00,0.05,0.00,0.00, 0.50,0.20,0.00,-0.05,0.00,0.00,-0.05,-0.05,0.00,0.00,
     0.30,0.10,-0.05,0.00,-0.05,0.00,0.00,-0.05,0.00,-0.05, 0.00],
]
CNES_BDS_R_SPIKE_T = [172.28, 172.75, 172.93, 172.97]
CNES_BDS_R_SPIKE_LO = [-1.1, -0.7, -1.1, -0.6]
CNES_BDS_R_SPIKE_HI = [0.0, 0.0, 1.2, 0.8]

CNES_BDS_A = [
    [0.00,0.05,-0.05,0.00,NA,0.00,0.05,0.00,-0.05,0.00, 0.05,0.10,0.00,-0.05,0.00,0.05,0.00,-0.05,0.00,0.05,
     0.00,0.10,0.05,0.00,-0.05,0.00,0.05,0.00,0.00,-0.05, 0.05,0.00,-0.05,0.00,0.05,0.00,0.00,0.05,0.00,0.10,
     0.25,0.05,0.00,-0.05,0.00,0.05,0.00,-0.05,0.00,0.05, -0.15],
    [0.05,0.00,0.05,0.00,NA,0.05,0.00,0.05,0.10,0.05, 0.00,0.05,0.00,0.05,0.10,0.05,0.00,0.05,0.00,0.05,
     0.10,0.05,0.00,0.05,0.00,0.05,0.00,0.10,0.05,0.00, 0.05,0.00,0.05,0.10,0.00,0.05,0.00,0.05,0.00,0.05,
     0.10,0.00,0.05,0.00,0.05,0.10,0.00,0.05,0.00,0.05, 0.00],
    [-0.05,0.00,0.00,-0.05,NA,0.00,-0.05,0.00,0.05,0.00, -0.05,0.00,0.05,0.00,-0.05,0.00,0.00,0.05,0.00,-0.05,
     0.00,0.00,0.05,0.00,-0.05,0.00,0.05,0.00,-0.05,0.00, 0.00,0.05,0.00,-0.05,0.00,0.05,0.00,-0.05,0.00,0.05,
     0.00,0.00,-0.05,0.00,0.05,0.00,0.00,-0.05,0.00,0.05, 0.00],
    [0.00,-0.05,0.00,0.00,NA,0.00,0.00,-0.05,0.00,0.00, -0.05,0.00,0.00,-0.05,0.00,-0.05,0.00,0.00,-0.05,0.00,
     0.00,-0.05,0.00,0.00,-0.05,0.00,0.00,-0.05,0.00,0.00, -0.05,0.00,-0.10,-0.15,-0.05,0.00,0.00,-0.05,0.00,0.00,
     -0.05,0.00,0.00,-0.05,-0.10,0.00,0.00,-0.05,0.00,0.00, -0.05],
]
CNES_BDS_C = [
    [0.00,-0.10,0.05,0.00,NA,0.00,0.10,-0.05,0.00,0.05, -0.10,0.00,0.10,0.00,-0.05,0.05,0.00,-0.10,0.05,0.00,
     0.10,0.00,-0.05,0.10,0.00,-0.05,0.00,0.10,-0.40,-0.20, 0.00,0.05,-0.10,0.00,0.10,-0.05,0.00,0.05,-0.10,-0.50,
     0.00,0.10,0.05,0.00,0.30,-0.05,0.00,-0.30,-0.50,0.05, 0.10],
    [0.05,0.00,0.10,0.05,NA,0.10,0.00,0.05,0.10,0.00, 0.05,0.15,0.05,0.00,0.10,0.05,0.00,0.10,0.05,0.00,
     0.05,0.10,0.00,0.05,0.15,0.00,0.05,0.10,0.00,0.05, 0.10,0.00,0.05,0.10,0.05,0.00,0.10,0.05,0.00,0.10,
     0.05,0.00,0.10,0.05,0.00,0.10,0.05,0.00,0.10,0.05, 0.00],
    [0.10,-0.05,0.00,0.05,NA,-0.05,0.00,0.05,-0.05,0.00, -0.10,0.05,0.00,-0.05,0.05,0.00,-0.05,0.00,0.05,-0.05,
     0.00,0.05,-0.10,0.00,0.05,-0.05,0.00,0.05,0.00,-0.05, 0.00,0.05,-0.05,0.00,0.05,0.00,-0.05,0.00,0.05,0.00,
     -0.05,0.00,0.05,0.00,-0.05,0.05,0.00,-0.05,0.00,0.05, 0.00],
    [0.20,-0.10,-0.05,0.00,NA,0.05,-0.05,0.00,0.05,-0.05, 0.00,0.05,-0.10,0.00,0.05,0.00,-0.05,0.05,0.00,-0.05,
     0.00,0.05,0.00,-0.05,0.05,0.00,-0.05,0.00,0.05,-0.05, 0.00,0.05,0.00,-0.05,0.00,0.05,-0.05,0.00,0.05,0.00,
     -0.05,0.00,0.05,0.00,-0.05,0.00,0.05,0.00,-0.05,0.00, 0.05],
    [0.00,0.05,-0.05,0.00,NA,0.00,-0.05,0.00,0.05,0.00, -0.05,0.00,0.05,-0.10,0.00,-0.05,0.00,0.05,0.00,-0.10,
     0.00,0.05,-0.05,0.00,0.00,-0.10,0.05,0.00,-0.05,0.00, 0.05,-0.05,0.00,0.00,-0.05,0.05,0.00,-0.10,0.00,0.05,
     -0.05,0.00,0.00,-0.05,0.05,0.00,-0.05,0.00,0.05,-0.05, 0.00],
]
CNES_BDS_C_SPIKE_T = [170.84, 171.90, 172.30, 172.75, 172.92, 172.96]
CNES_BDS_C_SPIKE_LO = [-0.8, -1.0, 0.0, -0.7, -2.5, -1.5]
CNES_BDS_C_SPIKE_HI = [0.0, 0.0, 1.35, 0.0, 1.85, 0.5]

CNES_GPS_R = [
    [0.00,0.05,0.00,0.05,NA,0.00,0.05,0.00,-0.05,0.00, 0.05,0.00,0.00,0.05,0.00,-0.05,0.00,0.05,0.00,0.00,
     0.05,0.00,-0.05,0.00,0.05,0.00,0.00,0.05,0.00,-0.05, 0.00,0.00,0.05,0.00,0.00,-0.05,0.00,0.05,0.00,0.00,
     0.05,0.00,-0.05,0.00,0.00,0.05,0.00,0.00,-0.05,0.00, 0.05],
    [NA,0.00,0.05,0.00,NA,NA,NA,NA,NA,0.05, 0.00,0.05,NA,NA,NA,NA,NA,0.00,0.05,0.00,
     NA,NA,NA,NA,NA,0.05,0.00,0.05,NA,NA, NA,NA,NA,0.00,0.05,0.00,NA,NA,NA,NA,
     NA,0.05,0.00,0.05,NA,NA,NA,NA,NA,0.00, 0.05],
    [NA,NA,NA,NA,NA,0.05,0.00,0.05,NA,NA, NA,NA,NA,0.05,0.00,0.05,NA,NA,NA,NA,
     NA,0.00,0.05,0.00,NA,NA,NA,NA,NA,0.05, 0.00,0.05,NA,NA,NA,NA,NA,0.00,0.05,0.00,
     NA,NA,NA,NA,NA,0.05,0.00,0.05,NA,NA, NA],
    [NA,NA,NA,NA,NA,NA,NA,NA,-0.05,0.00, NA,NA,0.00,-0.05,NA,NA,NA,NA,NA,NA,
     -0.05,0.00,NA,NA,NA,NA,NA,NA,0.00,-0.05, NA,NA,NA,NA,NA,NA,-0.05,0.00,NA,NA,
     NA,NA,NA,NA,0.00,-0.05,NA,NA,NA,NA, NA],
]
CNES_GPS_A = [
    [0.05,0.00,0.00,0.05,NA,0.05,0.00,0.00,0.05,0.00, -0.05,0.00,0.05,0.00,0.00,0.05,0.00,-0.05,0.00,0.05,
     0.00,0.00,0.05,0.00,-0.05,0.00,0.05,0.00,0.00,0.05, 0.00,-0.05,0.00,0.05,0.00,0.00,-0.05,0.00,0.05,0.00,
     0.00,0.05,0.00,-0.05,0.00,0.05,0.00,0.00,0.05,0.00, 0.00],
    [0.00,0.05,NA,NA,NA,NA,NA,0.05,0.00,0.05, NA,NA,NA,NA,NA,0.00,0.05,0.00,NA,NA,
     NA,NA,NA,0.05,0.00,0.05,NA,NA,NA,NA, NA,0.00,0.05,0.00,NA,NA,NA,NA,NA,0.05,
     0.00,0.05,NA,NA,NA,NA,NA,0.00,0.05,0.00, NA],
    [NA,NA,0.00,0.05,NA,NA,NA,NA,NA,NA, NA,0.05,0.00,0.05,NA,NA,NA,NA,NA,0.00,
     0.05,0.00,NA,NA,NA,NA,NA,0.05,0.00,0.05, NA,NA,NA,NA,NA,0.00,0.05,0.00,NA,NA,
     NA,NA,NA,0.05,0.00,0.05,NA,NA,NA,NA, NA],
    [NA,NA,NA,NA,NA,0.00,-0.05,NA,NA,NA, NA,NA,NA,NA,-0.05,0.00,NA,NA,NA,NA,
     NA,NA,-0.05,0.00,NA,NA,NA,NA,NA,NA, -0.05,0.00,NA,NA,NA,NA,NA,NA,-0.05,0.00,
     NA,NA,NA,NA,NA,NA,-0.05,0.00,NA,NA, NA],
]
CNES_GPS_C = [
    [0.00,0.00,0.05,0.00,NA,0.00,0.05,0.00,0.00,-0.05, 0.00,0.05,0.00,0.00,0.05,0.00,-0.05,0.00,0.00,0.05,
     0.00,0.05,0.00,-0.05,0.00,0.00,0.05,0.00,0.05,0.00, -0.05,0.00,0.00,0.05,0.00,0.05,0.00,-0.05,0.00,0.00,
     0.05,0.00,0.00,0.05,0.00,-0.05,0.00,0.05,0.00,0.00, 0.05],
    [NA,NA,NA,NA,NA,0.05,0.00,0.05,NA,NA, NA,NA,0.00,0.05,0.00,NA,NA,NA,NA,NA,
     0.05,0.00,0.05,NA,NA,NA,NA,NA,0.00,0.05, 0.00,NA,NA,NA,NA,NA,0.05,0.00,0.05,NA,
     NA,NA,NA,NA,0.00,0.05,0.00,NA,NA,NA, NA],
    [NA,0.05,0.00,NA,NA,NA,NA,NA,0.00,0.05, 0.00,NA,NA,NA,NA,NA,0.05,0.00,0.05,NA,
     NA,NA,NA,NA,0.00,0.05,0.00,NA,NA,NA, NA,NA,0.05,0.00,0.05,NA,NA,NA,NA,NA,
     0.00,0.05,0.00,NA,NA,NA,NA,NA,0.05,0.00, 0.05],
    [NA,NA,NA,NA,NA,NA,NA,NA,NA,NA, -0.05,0.00,NA,NA,NA,NA,NA,NA,NA,-0.05,
     0.00,NA,NA,NA,NA,NA,NA,-0.05,0.00,NA, NA,NA,NA,NA,NA,-0.05,0.00,NA,NA,NA,
     NA,NA,NA,-0.05,0.00,NA,NA,NA,NA,NA, NA],
]

# ---------------- styling ----------------
W, H = 1140, 633
COLORS = ['#0072BD', '#D95319', '#EDB120', '#7E2F8E', '#77AC30', '#4DBEEE', '#A2142F']
FRAME = '#5c5c5c'
GRID = '#e4e4e4'
TXT = '#262626'
FONT = 'Liberation Sans, Arial, sans-serif'
COL_PX = [(99, 443), (446, 789), (792, 1137)]
ROW_PX = [(54, 138), (140, 226), (228, 313), (323, 408), (411, 496), (498, 582)]
LW = 2.3

fig = make_subplots(rows=6, cols=3)


def add_lines(r, c, series, color_idx, width=LW):
    for vals, ci in zip(series, color_idx):
        t = np.linspace(DOY_START, DOY_END, len(vals))
        fig.add_trace(go.Scatter(x=t, y=vals, mode='lines', connectgaps=False,
                                 line=dict(color=COLORS[ci], width=width),
                                 showlegend=False, hoverinfo='skip'), row=r, col=c)


def add_spikes(r, c, ts, lo, hi):
    xs, ys = [], []
    for t, a, b in zip(ts, lo, hi):
        xs += [t, t, None]
        ys += [a, b, None]
    fig.add_trace(go.Scatter(x=xs, y=ys, mode='lines', line=dict(color=COLORS[0], width=2.2, dash='dot'),
                             showlegend=False, hoverinfo='skip'), row=r, col=c)


ALL7 = [0, 1, 2, 3, 4, 5, 6]
MORE5 = [5, 2, 0, 4, 1]
# BDS-3 rows
for c in (1, 2):
    add_lines(1, c, BDS_R_BRDC, ALL7)
    add_lines(2, c, BDS_A_BRDC_MORE, ALL7)
    add_lines(2, c, BDS_A_BRDC, ALL7)
    add_lines(3, c, BDS_C_BRDC_MORE, ALL7)
    add_lines(3, c, BDS_C_BRDC, ALL7)
add_lines(1, 3, CNES_BDS_R, [0, 2, 4, 5, 6], width=2.8)
add_spikes(1, 3, CNES_BDS_R_SPIKE_T, CNES_BDS_R_SPIKE_LO, CNES_BDS_R_SPIKE_HI)
add_lines(2, 3, CNES_BDS_A, [0, 1, 4, 6], width=2.8)
add_lines(3, 3, CNES_BDS_C, [0, 1, 4, 5, 6], width=2.8)
add_spikes(3, 3, CNES_BDS_C_SPIKE_T, CNES_BDS_C_SPIKE_LO, CNES_BDS_C_SPIKE_HI)

# GPS rows
add_lines(4, 1, GPS_R_BRDC, ALL7)
add_lines(4, 1, [GPS_R_BRDC_UP_PURPLE, GPS_R_BRDC_UP_ORANGE, GPS_R_BRDC_UP_RED], [3, 1, 6])
add_lines(5, 1, GPS_A_BRDC_MORE, MORE5)
add_lines(5, 1, GPS_A_BRDC, ALL7)
add_lines(6, 1, GPS_C_BRDC_MORE, MORE5)
add_lines(6, 1, GPS_C_BRDC, ALL7)

add_lines(4, 2, GPS_R_PPP, ALL7)
ARC_COLORS = [6, 6, 6, 1, 1, 1, 0, 0, 0, 6]
for t0, vals, ci in zip(GPS_R_PPP_ARC_START, GPS_R_PPP_ARC_VALUES, ARC_COLORS):
    t = t0 + 0.05 * np.arange(len(vals))
    fig.add_trace(go.Scatter(x=t, y=vals, mode='lines', line=dict(color=COLORS[ci], width=LW),
                             showlegend=False, hoverinfo='skip'), row=4, col=2)
add_lines(5, 2, GPS_A_PPP_MORE, MORE5)
add_lines(5, 2, GPS_A_PPP, ALL7)
add_lines(6, 2, GPS_C_PPP_MORE, MORE5)
add_lines(6, 2, GPS_C_PPP, ALL7)

add_lines(4, 3, CNES_GPS_R, [0, 1, 2, 3], width=3)
add_lines(5, 3, CNES_GPS_A, [0, 1, 2, 3], width=3)
add_lines(6, 3, CNES_GPS_C, [0, 1, 2, 3], width=3)

# ---------------- axes ----------------
for r in range(1, 7):
    for c in range(1, 4):
        n = (r - 1) * 3 + c
        xa = 'xaxis' if n == 1 else f'xaxis{n}'
        ya = 'yaxis' if n == 1 else f'yaxis{n}'
        x0, x1 = COL_PX[c - 1]
        y0, y1 = ROW_PX[r - 1]
        fig.layout[xa].update(
            domain=[x0 / W, x1 / W], range=[DOY_START, DOY_END],
            tickmode='array', tickvals=[d + 0.5 for d in range(168, 173)], ticktext=DAY_LABELS,
            showticklabels=(r == 6), ticks='', showgrid=False, zeroline=False,
            showline=True, linecolor=FRAME, linewidth=1.5, mirror=True,
            minor=dict(tickmode='array', tickvals=[169, 170, 171, 172], ticks='inside', ticklen=4,
                       tickcolor=FRAME, showgrid=True, gridcolor=GRID, gridwidth=1),
            tickfont=dict(size=19, color=TXT, family=FONT), fixedrange=True)
        fig.layout[ya].update(
            domain=[1 - y1 / H, 1 - y0 / H], range=[-3, 3],
            tickmode='array', tickvals=Y_TICKS, ticktext=['-2', '0', '2'],
            showticklabels=(c == 1), ticks='inside', ticklen=4, tickcolor=FRAME,
            showgrid=True, gridcolor=GRID, gridwidth=1, zeroline=False,
            showline=True, linecolor=FRAME, linewidth=1.5, mirror='ticks',
            tickfont=dict(size=18, color=TXT, family=FONT), fixedrange=True)

# ---------------- text ----------------
ann = []
for c, title in enumerate(COL_TITLES):
    ann.append(dict(x=(COL_PX[c][0] + 1) / W, y=1 - 28.5 / H, xref='paper', yref='paper',
                    text=title, showarrow=False, xanchor='left', yanchor='middle', align='left',
                    font=dict(size=18, color=TXT, family=FONT)))
for r, lab in enumerate(ROW_LABELS):
    yc = (ROW_PX[r][0] + ROW_PX[r][1]) / 2
    ann.append(dict(x=65 / W, y=1 - yc / H, xref='paper', yref='paper', text=lab, textangle=-90,
                    showarrow=False, xanchor='center', yanchor='middle',
                    font=dict(size=20, color=TXT, family=FONT)))
for s, yc in zip(SYSTEMS, [183, 453.5]):
    ann.append(dict(x=20 / W, y=1 - yc / H, xref='paper', yref='paper', text=s, textangle=-90,
                    showarrow=False, xanchor='center', yanchor='middle',
                    font=dict(size=20, color=TXT, family=FONT)))
ann.append(dict(x=617 / W, y=1 - 620 / H, xref='paper', yref='paper', text=X_TITLE, showarrow=False,
                xanchor='center', yanchor='middle', font=dict(size=19, color=TXT, family=FONT)))

sep_y = 1 - 319 / H
shapes = [
    dict(type='line', xref='paper', yref='paper', x0=6 / W, x1=1, y0=sep_y, y1=sep_y,
         line=dict(color='#E3191C', width=5)),
    dict(type='line', xref='paper', yref='paper', x0=6 / W, x1=1, y0=sep_y, y1=sep_y,
         line=dict(color='#FCEFE6', width=2, dash='3px,3px')),
]

fig.update_layout(width=W, height=H, margin=dict(l=0, r=0, t=0, b=0),
                  paper_bgcolor='white', plot_bgcolor='white',
                  annotations=ann, shapes=shapes, showlegend=False,
                  font=dict(family=FONT, color=TXT))

fig.write_html("out.html", config={'displayModeBar': False},
               post_script="document.body.style.margin='0px';document.body.style.overflow='hidden';")
